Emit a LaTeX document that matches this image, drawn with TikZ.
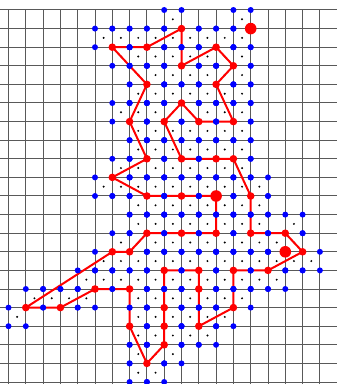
\documentclass[tikz,border=0pt]{standalone}
\begin{document}
\begin{tikzpicture}[x=1pt,y=1pt]
\useasboundingbox (0,0) rectangle (337,384);
\tikzset{
  gridline/.style={draw=black!65, line width=1pt},
  redline/.style={draw=red, line width=2pt, line join=round},
}
\def\cells{0/{9,13},1/{5,6,7,8,9,10,11,12,13},2/{6,7,8,9,10,11,12,13},3/{7,8,9,10,11,12,13},4/{7,8,9,10,11,12,13},5/{6,7,8,9,10,11,12,13},6/{7,8,9,10,11,12,13},7/{7,8,9,10,11,12,13},8/{6,7,8,9,10,11,12,13},9/{5,6,7,8,9,10,11,12,13,14},10/{7,8,9,10,11,12,13,14},11/{7,8,9,10,11,12,13,14,16},12/{6,7,8,9,10,11,12,13,14,15,16},13/{5,6,7,8,9,10,11,12,13,14,15,16,17},14/{4,5,6,7,8,9,10,11,12,13,14,15},15/{1,2,3,4,7,8,9,10,11,12,13},16/{0,7,8,9,10,11,12},17/{7,8,9,10,11},18/{7,8,9},19/{7,8}}
\begin{scope}[x=17.3pt,y=-18.6pt,shift={(8.5pt,374pt)}]
  % grid
  \foreach \i in {0,...,19} \draw[gridline] (\i,0) -- (\i,20.12);
  \foreach \j in {0,...,20} \draw[gridline] (-0.5,\j) -- (19,\j);
  % cell centres
  \foreach \r/\cs in \cells {
    \foreach \c in \cs { \fill[black] (\c+0.5,\r+0.5) circle (1.1pt); }
  }
  % red polygon vertices
  \foreach \n/\p in {1/{6,2},2/{8,2},3/{10,1},4/{10,3},5/{12,2},6/{13,3},7/{12,4},8/{13,6},9/{11,6},10/{10,5},11/{9,6},12/{10,8},13/{12,8},14/{13,8},15/{14,10},16/{14,12},17/{16,12},18/{17,13},19/{15,14},20/{13,14},21/{13,16},22/{11,17},23/{11,15},24/{11,14},25/{9,14},26/{9,16},27/{9,17},28/{9,18},29/{8,19},30/{7,17},31/{7,15},32/{5,15},33/{3,16},34/{1,16},35/{6,13},36/{7,13},37/{8,12},38/{10,12},39/{12,12},40/{12,10},41/{10,10},42/{8,10},43/{6,9},44/{8,8},45/{7,6},46/{8,4}}
    { \coordinate (v\n) at (\p); }
  \coordinate (b1) at (14,1);
  \coordinate (b3) at (16,13);
  \draw[redline] (v1) \foreach \k in {2,...,46} { -- (v\k) } -- cycle;
  % lattice points
  \foreach \r/\cs in \cells {
    \foreach \c in \cs {
      \fill[blue] (\c,\r) circle (3pt);
      \fill[blue] (\c+1,\r) circle (3pt);
      \fill[blue] (\c,\r+1) circle (3pt);
      \fill[blue] (\c+1,\r+1) circle (3pt);
    }
  }
  \foreach \k in {1,...,46} \fill[red] (v\k) circle (3.8pt);
  \fill[red] (b1) circle (5.8pt);
  \fill[red] (v40) circle (5.8pt);
  \fill[red] (b3) circle (5.8pt);
\end{scope}
\end{tikzpicture}
\end{document}
